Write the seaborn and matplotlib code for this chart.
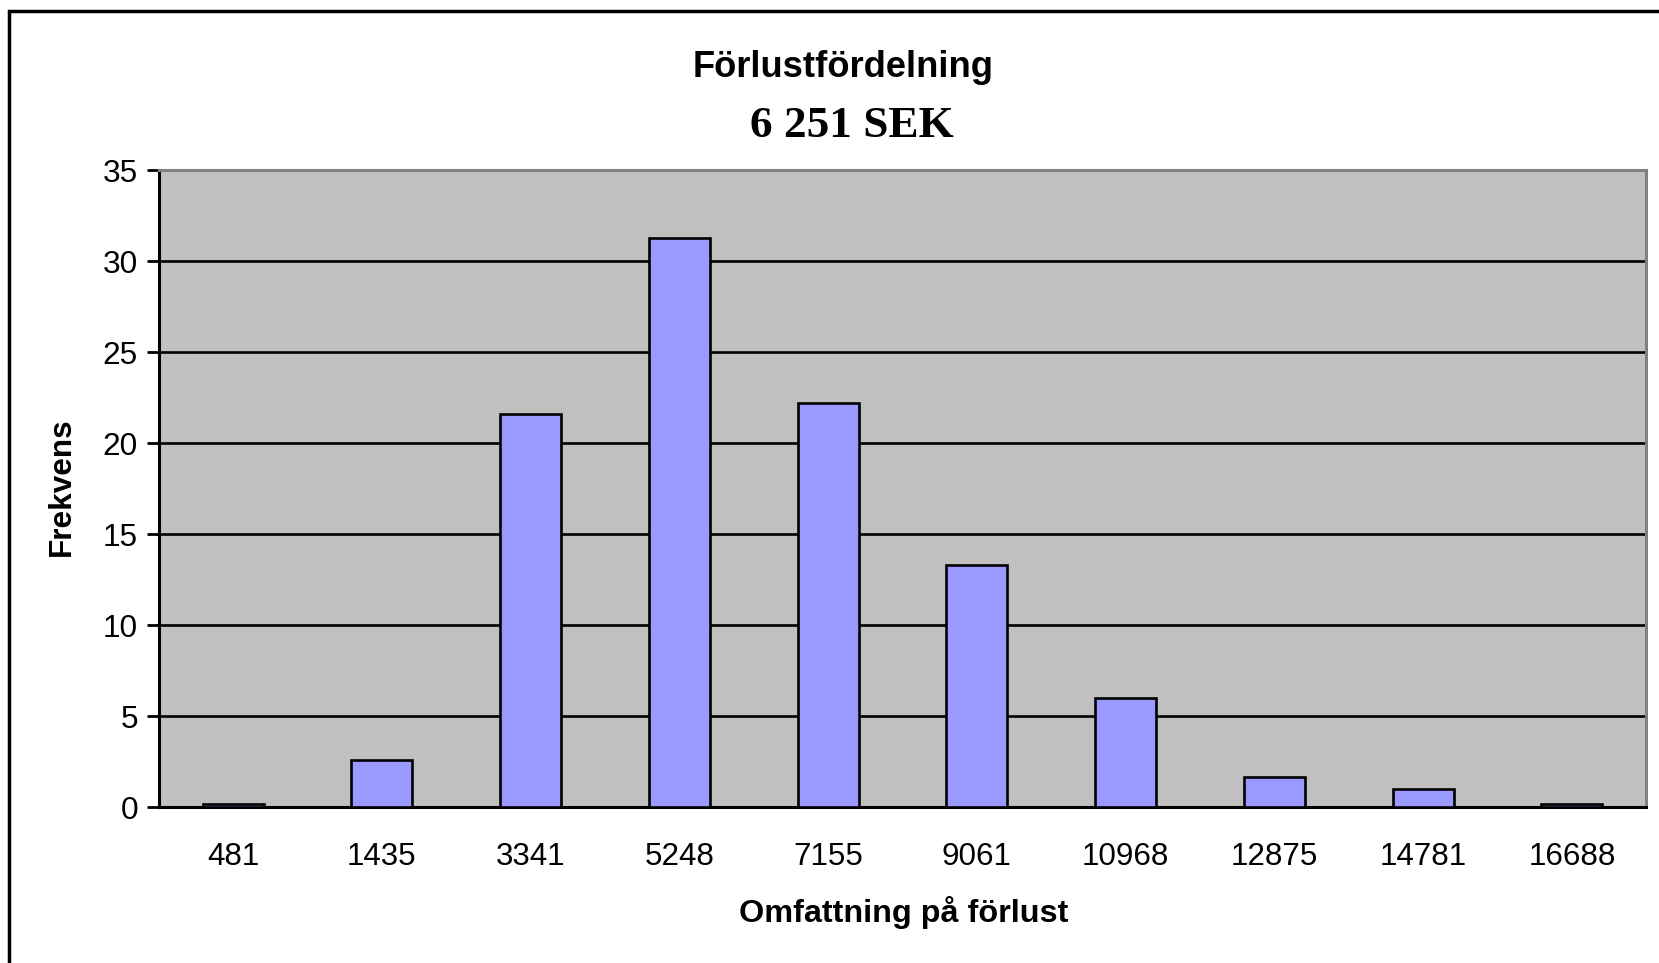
import matplotlib
matplotlib.use("Agg")
import matplotlib.pyplot as plt
import matplotlib.patches as mpatches
import numpy as np
import pandas as pd
import seaborn as sns

# Loss-size classes (SEK) and frequency (%) in each class
loss_classes = ["481", "1435", "3341", "5248", "7155", "9061", "10968", "12875", "14781", "16688"]
frequency = [0.2, 2.6, 21.6, 31.3, 22.2, 13.3, 6.0, 1.7, 1.0, 0.2]
y_ticks = [0, 5, 10, 15, 20, 25, 30, 35]

title_text = "Förlustfördelning"
subtitle_text = "6 251 SEK"
x_label = "Omfattning på förlust"
y_label = "Frekvens"

sns.set_theme(style="white")
plt.rcParams["font.family"] = ["Liberation Sans", "DejaVu Sans"]
plt.rcParams["text.color"] = "black"
plt.rcParams["axes.labelcolor"] = "black"
plt.rcParams["xtick.color"] = "black"
plt.rcParams["ytick.color"] = "black"

df = pd.DataFrame({"klass": loss_classes, "frekvens": frequency})

fig = plt.figure(figsize=(16.59, 9.63), dpi=100)
fig.patch.set_facecolor("white")
ax = fig.add_axes([0.0957, 0.1615, 0.8966, 0.6616])
ax.set_facecolor("#C0C0C0")

sns.barplot(data=df, x="klass", y="frekvens", order=loss_classes, ax=ax,
            color="#9999FF", saturation=1, width=0.41,
            edgecolor="black", linewidth=1.9, zorder=3)

ax.set_ylim(0, 35)
ax.set_xlim(-0.5, len(loss_classes) - 0.5)
ax.set_yticks(y_ticks)
ax.set_yticklabels([str(t) for t in y_ticks], fontsize=22.8, color="black")
ax.set_xticklabels(loss_classes, fontsize=22.6, color="black")

# horizontal gridlines
for t in y_ticks[1:-1]:
    ax.axhline(t, color="black", linewidth=1.9, zorder=1)

# x tick marks on the category boundaries
ax.set_xticks(np.arange(-0.5, len(loss_classes), 1.0), minor=True)
ax.tick_params(axis="x", which="major", length=0, pad=25)
ax.tick_params(axis="x", which="minor", length=9, width=2, color="black", direction="out")
ax.tick_params(axis="y", which="major", length=9, width=2, color="black", direction="out", pad=6, left=True)

for side in ["left", "bottom"]:
    ax.spines[side].set_color("black")
    ax.spines[side].set_linewidth(2.2)
for side in ["top", "right"]:
    ax.spines[side].set_color("#808080")
    ax.spines[side].set_linewidth(2.2)
    ax.spines[side].set_visible(True)

ax.set_xlabel("")
ax.set_ylabel("")

fig.text(0.5085, 0.9295, title_text, ha="center", va="center", color="black",
         fontsize=26.2, fontweight="bold", family=["Liberation Sans", "DejaVu Sans"])
fig.text(0.5135, 0.869, subtitle_text, ha="center", va="center", color="black",
         fontsize=32.6, fontweight="bold", family=["Liberation Serif", "DejaVu Serif"])
fig.text(0.5445, 0.0527, x_label, ha="center", va="center", color="black",
         fontsize=23.3, fontweight="bold")
fig.text(0.037, 0.4945, y_label, ha="center", va="center", rotation=90, color="black",
         fontsize=22.7, fontweight="bold")

# chart frame
frame = mpatches.Rectangle((0.0053, -0.2), 1.5, 1.189, transform=fig.transFigure,
                           fill=False, edgecolor="black", linewidth=2.5)
fig.patches.append(frame)

fig.savefig("out.png", dpi=100, facecolor="white")
